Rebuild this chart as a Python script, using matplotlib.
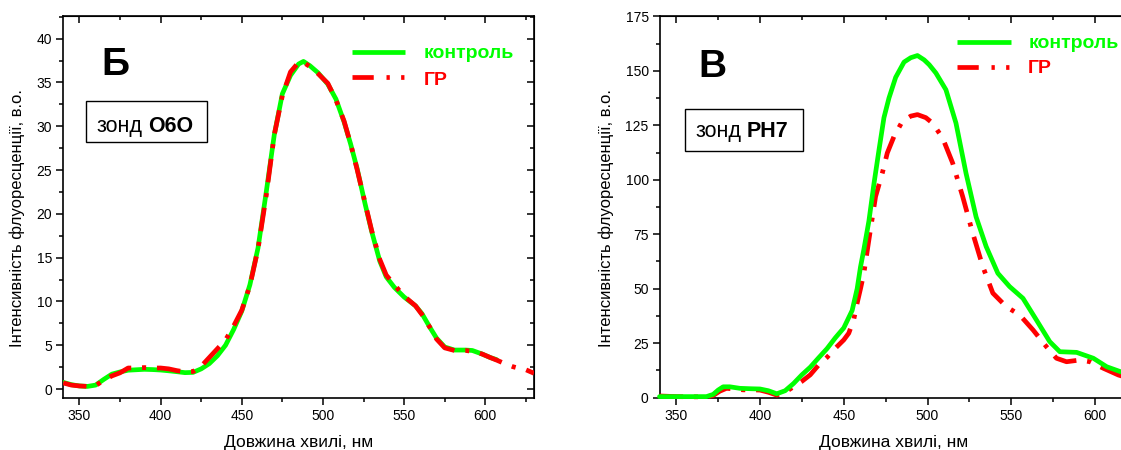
import matplotlib
matplotlib.use("Agg")
import matplotlib.pyplot as plt
from matplotlib.ticker import MultipleLocator
from matplotlib.patches import Rectangle
from matplotlib.lines import Line2D

plt.rcParams['font.family'] = ['Liberation Sans', 'DejaVu Sans']

# ---------------- data ----------------
# Panel Б (probe O6O)
wl_b_ctrl = [340, 345, 350, 355, 360, 365, 370, 375, 380, 385, 390, 395, 400, 405, 410, 415,
             420, 425, 430, 435, 440, 445, 450, 455, 460, 465, 470, 475, 480, 485, 488, 492,
             497, 503, 508, 513, 517, 521, 526, 530, 535, 539, 544, 550, 557, 561, 566, 570,
             575, 581, 588, 592, 598, 603, 607]
int_b_ctrl = [0.76, 0.5, 0.35, 0.3, 0.45, 1.1, 1.7, 1.95, 2.15, 2.2, 2.25, 2.22, 2.17, 2.08, 1.98, 1.87,
              1.9, 2.3, 2.9, 3.8, 5.0, 6.8, 8.9, 11.9, 16.1, 22.4, 29.0, 33.7, 35.8, 37.1, 37.4, 36.9,
              36.1, 34.8, 33.1, 30.5, 28.0, 25.2, 21.1, 18.0, 14.6, 12.8, 11.6, 10.5, 9.5, 8.6, 7.0, 5.8,
              4.8, 4.45, 4.45, 4.4, 4.0, 3.6, 3.35]
wl_b_gr = [340, 345, 350, 355, 360, 365, 370, 375, 380, 385, 390, 395, 400, 405, 410, 415,
           420, 425, 430, 435, 440, 445, 450, 455, 460, 465, 470, 475, 480, 485, 488, 492,
           497, 503, 508, 513, 517, 521, 526, 530, 535, 539, 544, 550, 557, 561, 566, 570,
           575, 581, 588, 592, 598, 603, 607, 612, 617, 621, 625, 630]
int_b_gr = [0.7, 0.45, 0.35, 0.3, 0.4, 1.0, 1.5, 1.85, 2.4, 2.4, 2.45, 2.4, 2.4, 2.3, 2.1, 1.95,
            2.0, 2.6, 3.6, 4.6, 5.6, 7.2, 9.0, 11.8, 16.0, 22.0, 29.0, 33.5, 36.2, 37.3, 37.3, 36.8,
            36.0, 34.9, 33.0, 30.6, 28.0, 25.1, 21.2, 18.1, 14.8, 13.0, 11.9, 10.6, 9.5, 8.5, 7.0, 5.7,
            4.7, 4.4, 4.4, 4.3, 4.0, 3.6, 3.3, 2.9, 2.55, 2.35, 2.2, 1.8]

# Panel В (probe PH7)
wl_v_ctrl = [340, 350, 360, 368, 372, 375, 378, 382, 388, 395, 400, 405, 410, 415, 420, 425,
             430, 435, 440, 445, 450, 455, 458, 460, 462, 465, 468, 471, 474, 477, 481, 486,
             490, 494, 498, 501, 505, 511, 517, 523, 529, 535, 542, 549, 557, 565, 573, 579,
             589, 599, 607, 615, 620]
int_v_ctrl = [0.5, 0.5, 0.5, 0.5, 1.5, 3.5, 5.0, 5.0, 4.3, 4.1, 4.0, 3.2, 1.8, 3.2, 6.5, 10.5,
              14.0, 18.3, 22.5, 27.5, 32.0, 40.0, 50.0, 60.0, 68.0, 81.0, 98.0, 113.5, 128.5, 137.5, 147.0, 154.0,
              156.0, 157.0, 155.0, 152.8, 149.0, 141.3, 126.0, 103.0, 83.0, 69.4, 57.1, 51.0, 45.6, 35.7, 25.7, 21.1,
              20.8, 18.1, 14.2, 12.0, 10.8]
wl_v_gr = [340, 350, 360, 368, 372, 376, 380, 385, 390, 395, 400, 405, 410, 415, 419, 425,
           430, 435, 440, 445, 450, 453, 456, 458, 460, 462, 465, 469, 473, 476, 480, 485,
           490, 494, 499, 503, 509, 515, 521, 527, 533, 539, 547, 555, 563, 571, 577, 583,
           591, 597, 605, 614, 620]
int_v_gr = [0.8, 0.5, 0.4, 0.4, 1.0, 3.0, 4.3, 4.0, 3.6, 3.6, 3.5, 2.5, 1.2, 2.5, 4.5, 7.5,
            10.5, 15.0, 18.5, 22.7, 26.5, 29.6, 36.0, 43.4, 50.0, 57.1, 72.4, 92.3, 103.0, 112.3, 119.9, 126.8,
            129.2, 129.9, 128.5, 126.0, 119.2, 107.7, 92.3, 75.5, 60.2, 48.0, 41.8, 38.0, 31.1, 23.4, 18.1, 16.5,
            17.3, 16.5, 13.5, 10.4, 9.0]

x_ticks = [350, 400, 450, 500, 550, 600]
series_labels = ['контроль', 'ГР']
xlabel = 'Довжина хвилі, нм'
ylabel = 'Інтенсивність флуоресценції, в.о.'

GREEN = '#00ff00'
RED = '#ff0000'
LW = 3.4
CURVE_DASH = (0, (5.0, 2.3, 0.85, 2.3))
LEG_DASH = (0, (4.5, 2.7, 0.7, 2.4, 0.7, 2.7))

W, H = 1121, 450
fig = plt.figure(figsize=(W / 100, H / 100), dpi=100)


def px_axes(left, right, top, bottom):
    return fig.add_axes([left / W, (H - bottom) / H, (right - left) / W, (bottom - top) / H])


ax1 = px_axes(63.2, 534.0, 16.3, 397.7)
ax2 = px_axes(659.5, 1128.5, 16.3, 397.7)


def style_axes(ax, xlim, ylim, ymaj, ymin):
    ax.set_xlim(*xlim)
    ax.set_ylim(*ylim)
    ax.set_xticks(x_ticks)
    ax.xaxis.set_minor_locator(MultipleLocator(25))
    ax.yaxis.set_major_locator(MultipleLocator(ymaj))
    ax.yaxis.set_minor_locator(MultipleLocator(ymin))
    for s in ax.spines.values():
        s.set_linewidth(1.2)
    ax.tick_params(which='both', direction='out', width=1.1, labelsize=10, pad=3)
    ax.tick_params(which='major', length=4.8)
    ax.tick_params(which='minor', length=3)
    top = ax.secondary_xaxis('top')
    top.set_xticks(x_ticks)
    top.xaxis.set_minor_locator(MultipleLocator(25))
    top.tick_params(which='both', direction='in', width=1.1, labeltop=False)
    top.tick_params(which='major', length=4.8)
    top.tick_params(which='minor', length=3)
    right = ax.secondary_yaxis('right')
    right.yaxis.set_major_locator(MultipleLocator(ymaj))
    right.yaxis.set_minor_locator(MultipleLocator(ymin))
    right.tick_params(which='both', direction='in', width=1.1, labelright=False)
    right.tick_params(which='major', length=4.8)
    right.tick_params(which='minor', length=3)
    ax.set_xlabel(xlabel, fontsize=12.5, labelpad=9)


style_axes(ax1, (340, 630), (-0.99, 42.55), 5, 2.5)
style_axes(ax2, (340, 620), (0, 175), 25, 12.5)

# curves
ax1.plot(wl_b_ctrl, int_b_ctrl, color=GREEN, lw=LW, solid_capstyle='round', zorder=3)
ax1.plot(wl_b_gr, int_b_gr, color=RED, lw=LW, linestyle=CURVE_DASH, dash_capstyle='butt', zorder=4)
ax2.plot(wl_v_gr, int_v_gr, color=RED, lw=LW, linestyle=CURVE_DASH, dash_capstyle='butt', zorder=3,
         clip_on=False)
ax2.plot(wl_v_ctrl, int_v_ctrl, color=GREEN, lw=LW, solid_capstyle='round', zorder=4, clip_on=False)

# y labels
fig.text(17 / W, 1 - 218 / H, ylabel, rotation=90, ha='center', va='center', fontsize=12)
fig.text(606.7 / W, 1 - 218 / H, ylabel, rotation=90, ha='center', va='center', fontsize=12)


def annotate_panel(ax, letter, lx, lbase, box, zond_x, text_base, probe,
                   lg_x0, lg_x1, lg_tx, g_y, r_y, g_base, r_base):
    ax.text(lx, lbase, letter, transform=ax.transAxes, fontsize=28, fontweight='bold',
            ha='left', va='baseline')
    x0, x1, y0, y1 = box
    ax.add_patch(Rectangle((x0, y0), x1 - x0, y1 - y0, transform=ax.transAxes,
                           fill=False, edgecolor='black', lw=1.0, zorder=5))
    t = ax.text(zond_x, text_base, 'зонд', transform=ax.transAxes, fontsize=15.5,
                ha='left', va='baseline')
    ax.annotate(probe, xy=(1, 0), xycoords=t, xytext=(5, 0), textcoords='offset pixels',
                fontsize=15.5, fontweight='bold', ha='left', va='bottom')
    # legend
    ax.add_line(Line2D([lg_x0, lg_x1], [g_y, g_y], transform=ax.transAxes, color=GREEN,
                       lw=LW, solid_capstyle='butt'))
    ax.add_line(Line2D([lg_x0, lg_x1], [r_y, r_y], transform=ax.transAxes, color=RED,
                       lw=LW, linestyle=LEG_DASH, dash_capstyle='butt'))
    ax.text(lg_tx, g_base, series_labels[0], transform=ax.transAxes, fontsize=14,
            fontweight='bold', color=GREEN, ha='left', va='baseline')
    ax.text(lg_tx, r_base, series_labels[1], transform=ax.transAxes, fontsize=14,
            fontweight='bold', color=RED, ha='left', va='baseline')


annotate_panel(ax1, 'Б', 0.082, 0.846, (0.0484, 0.3054, 0.6704, 0.778), 0.0712, 0.6974,
               'О6О', 0.614, 0.726, 0.765, 0.907, 0.8416, 0.890, 0.820)
annotate_panel(ax2, 'В', 0.0827, 0.8417, (0.0544, 0.3053, 0.6476, 0.7562), 0.0778, 0.6843,
               'РН7', 0.635, 0.749, 0.786, 0.933, 0.868, 0.916, 0.8505)

fig.savefig('out.png', dpi=100)
